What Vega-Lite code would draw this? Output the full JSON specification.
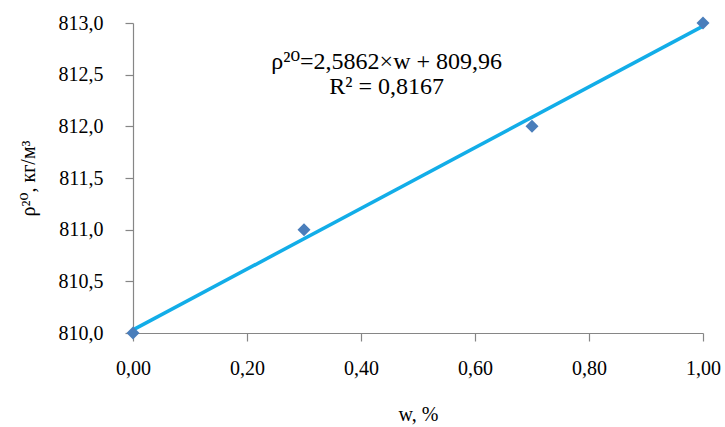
{
  "$schema": "https://vega.github.io/schema/vega-lite/v6.json",
  "width": 570,
  "height": 310,
  "autosize": "none",
  "padding": {"left": 133, "top": 23, "right": 22, "bottom": 94},
  "background": "white",
  "config": {
    "view": {"stroke": null},
    "locale": {"number": {"decimal": ",", "thousands": " ", "grouping": [3], "currency": ["", ""]}},
    "font": "Liberation Serif, DejaVu Serif",
    "axis": {
      "grid": false,
      "domainColor": "#868686",
      "tickColor": "#868686",
      "domainWidth": 1.2,
      "tickWidth": 1.2,
      "tickSize": 8,
      "labelFlush": false,
      "labelFont": "Liberation Serif, DejaVu Serif",
      "labelFontSize": 20,
      "labelColor": "#000000",
      "titleFont": "Liberation Serif, DejaVu Serif",
      "titleFontSize": 20,
      "titleFontWeight": "normal",
      "titleColor": "#000000"
    }
  },
  "datasets": {
    "points": [
      {"w": 0.0, "rho": 810.0},
      {"w": 0.3, "rho": 811.0},
      {"w": 0.7, "rho": 812.0},
      {"w": 1.0, "rho": 813.0}
    ],
    "trend": [
      {"w": 0.0, "rho": 810.03},
      {"w": 1.0, "rho": 812.97}
    ],
    "label": [
      {"w": 0.445, "rho": 812.62, "text": ["ρ²⁰=2,5862×w + 809,96", "R² = 0,8167"]}
    ]
  },
  "layer": [
    {
      "data": {"name": "trend"},
      "mark": {"type": "line", "color": "#12ADE8", "strokeWidth": 3.5},
      "encoding": {
        "x": {
          "field": "w", "type": "quantitative",
          "scale": {"domain": [0, 1], "nice": false},
          "axis": {"values": [0, 0.2, 0.4, 0.6, 0.8, 1.0], "format": ".2f", "title": "w, %", "labelPadding": 17, "titlePadding": 26}
        },
        "y": {
          "field": "rho", "type": "quantitative",
          "scale": {"domain": [810, 813], "nice": false, "zero": false},
          "axis": {"values": [810, 810.5, 811, 811.5, 812, 812.5, 813], "format": ".1f", "title": "ρ²⁰, кг/м³", "labelPadding": 22, "titlePadding": 20}
        }
      }
    },
    {
      "data": {"name": "points"},
      "mark": {"type": "point", "shape": "diamond", "filled": true, "color": "#4A7EBB", "size": 170, "opacity": 1},
      "encoding": {
        "x": {"field": "w", "type": "quantitative"},
        "y": {"field": "rho", "type": "quantitative"}
      }
    },
    {
      "data": {"name": "label"},
      "mark": {"type": "text", "font": "Liberation Serif, DejaVu Serif", "fontSize": 24, "color": "#000000", "lineHeight": 25, "align": "center", "baseline": "middle"},
      "encoding": {
        "x": {"field": "w", "type": "quantitative"},
        "y": {"field": "rho", "type": "quantitative"},
        "text": {"field": "text"}
      }
    }
  ]
}
